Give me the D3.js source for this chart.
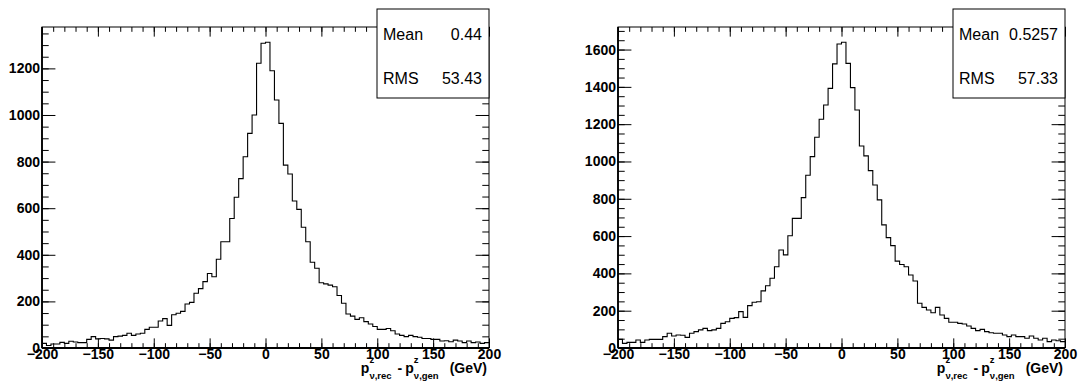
<!DOCTYPE html>
<html>
<head>
<meta charset="utf-8">
<script src="https://cdn.jsdelivr.net/npm/d3@7"></script>
<style>
  body { margin: 0; background: #fff; }
  svg { display: block; }
  text { font-family: "Liberation Sans", Arial, Helvetica, sans-serif; }
</style>
</head>
<body>
<div id="chart"></div>
<script>
// Binning: 100 bins of 4 GeV from -200 to 200
const xMin = -200;
const xMax = 200;

// Counts per bin, left histogram
const leftCounts = [
  20, 11, 17, 17, 24, 20, 29, 26, 23, 23,
  37, 49, 39, 41, 39, 34, 49, 51, 54, 63,
  54, 60, 63, 80, 89, 89, 116, 126, 97, 143,
  149, 157, 189, 196, 235, 255, 285, 320, 306, 381,
  456, 456, 556, 647, 727, 821, 921, 1000, 1222, 1308,
  1312, 1190, 1064, 964, 785, 747, 631, 595, 518, 456,
  368, 342, 280, 275, 270, 263, 225, 192, 146, 137,
  123, 130, 113, 103, 92, 80, 80, 84, 74, 60,
  54, 49, 54, 49, 46, 41, 41, 37, 37, 30,
  31, 27, 34, 30, 23, 30, 23, 26, 20, 23
];

// Counts per bin, right histogram
const rightCounts = [
  46, 25, 30, 30, 43, 30, 43, 46, 46, 46,
  61, 79, 64, 70, 68, 57, 79, 88, 97, 105,
  93, 97, 105, 132, 141, 159, 163, 195, 164, 227,
  245, 248, 306, 334, 374, 436, 525, 499, 602, 695,
  695, 806, 926, 1026, 1130, 1226, 1303, 1392, 1523, 1630,
  1639, 1526, 1396, 1276, 1083, 1030, 951, 874, 794, 660,
  592, 549, 466, 448, 436, 391, 359, 240, 218, 204,
  189, 218, 177, 159, 138, 138, 132, 129, 118, 105,
  93, 100, 88, 82, 79, 79, 70, 61, 70, 61,
  61, 52, 64, 52, 43, 52, 34, 43, 39, 34
];

// Tick values
const xMajorTicks = [-200, -150, -100, -50, 0, 50, 100, 150, 200];
const xMinorTicks = d3.range(-200, 201, 10);
const leftYMajorTicks = [0, 200, 400, 600, 800, 1000, 1200];
const rightYMajorTicks = [0, 200, 400, 600, 800, 1000, 1200, 1400, 1600];

// Stat box contents
const leftStats = [["Mean", "0.44"], ["RMS", "53.43"]];
const rightStats = [["Mean", "0.5257"], ["RMS", "57.33"]];

const W = 1080, H = 385;
const svg = d3.select("#chart").append("svg")
  .attr("width", W)
  .attr("height", H);

function draw_hist(opt) {
  const x0 = opt.left, x1 = opt.right, y0 = 27, y1 = 348;
  const counts = opt.counts;
  const nb = counts.length;
  const bw = (xMax - xMin) / nb;
  const yTop = d3.max(counts) * 1.05;   // ROOT style headroom

  const xScale = d3.scaleLinear().domain([xMin, xMax]).range([x0, x1]);
  const yScale = d3.scaleLinear().domain([0, yTop]).range([y1, y0]);

  const g = svg.append("g");

  // Frame
  g.append("rect")
    .attr("x", x0).attr("y", y0)
    .attr("width", x1 - x0).attr("height", y1 - y0)
    .attr("fill", "none").attr("stroke", "#000").attr("stroke-width", 1);

  const xt = 0.03 * (y1 - y0);   // x tick length
  const yt = 0.03 * (x1 - x0);   // y tick length
  const yMinor = d3.range(0, yTop, 50);

  const style = sel => {
    sel.selectAll(".tick line").attr("stroke", "#000").attr("stroke-width", 1);
    sel.selectAll(".domain").remove();
    sel.selectAll("text")
      .attr("font-family", "'Liberation Sans', Arial, sans-serif")
      .attr("font-weight", "bold")
      .attr("font-size", "14px")
      .attr("fill", "#000");
  };

  // Bottom axis with labels
  g.append("g").attr("transform", `translate(0,${y1})`)
    .call(d3.axisBottom(xScale).tickValues(xMajorTicks).tickSize(-xt).tickPadding(1.5)
      .tickFormat(d3.format("d")))
    .call(style);
  g.append("g").attr("transform", `translate(0,${y1})`)
    .call(d3.axisBottom(xScale).tickValues(xMinorTicks).tickSize(-xt / 2).tickFormat(""))
    .call(style);
  // Top ticks
  g.append("g").attr("transform", `translate(0,${y0})`)
    .call(d3.axisTop(xScale).tickValues(xMajorTicks).tickSize(-xt).tickFormat(""))
    .call(style);
  g.append("g").attr("transform", `translate(0,${y0})`)
    .call(d3.axisTop(xScale).tickValues(xMinorTicks).tickSize(-xt / 2).tickFormat(""))
    .call(style);

  // Left axis with labels
  g.append("g").attr("transform", `translate(${x0},0)`)
    .call(d3.axisLeft(yScale).tickValues(opt.yMajor).tickSize(-yt).tickPadding(2)
      .tickFormat(d3.format("d")))
    .call(style);
  g.append("g").attr("transform", `translate(${x0},0)`)
    .call(d3.axisLeft(yScale).tickValues(yMinor).tickSize(-yt / 2).tickFormat(""))
    .call(style);
  // Right ticks
  g.append("g").attr("transform", `translate(${x1},0)`)
    .call(d3.axisRight(yScale).tickValues(opt.yMajor).tickSize(-yt).tickFormat(""))
    .call(style);
  g.append("g").attr("transform", `translate(${x1},0)`)
    .call(d3.axisRight(yScale).tickValues(yMinor).tickSize(-yt / 2).tickFormat(""))
    .call(style);

  // Thicker axis lines (left and bottom)
  g.append("line").attr("x1", x0).attr("x2", x0).attr("y1", y0).attr("y2", y1)
    .attr("stroke", "#000").attr("stroke-width", 1.8);
  g.append("line").attr("x1", x0).attr("x2", x1).attr("y1", y1).attr("y2", y1)
    .attr("stroke", "#000").attr("stroke-width", 2.2);

  // Histogram outline
  const pts = counts.map((c, i) => [xMin + i * bw, c]);
  pts.push([xMax, counts[nb - 1]]);
  const line = d3.line()
    .x(d => xScale(d[0]))
    .y(d => yScale(d[1]))
    .curve(d3.curveStepAfter);
  g.append("path")
    .datum(pts)
    .attr("d", line)
    .attr("fill", "none")
    .attr("stroke", "#000")
    .attr("stroke-width", 1.1);

  // Axis title: p^z_{nu,rec} - p^z_{nu,gen}  (GeV), right aligned
  const tg = g.append("g");
  let cx = 0;
  const put = (s, size, dy, adv) => {
    const t = tg.append("text").attr("x", cx).attr("y", dy)
      .attr("font-weight", "bold").attr("font-size", size + "px").text(s);
    const w = t.node().getComputedTextLength();
    if (adv) cx += w;
    return w;
  };
  const stack = (sup, sub) => {
    const a = put(sup, 9.5, -10, false);
    const b = put(sub, 9.5, 6, false);
    cx += Math.max(a, b);
  };
  put("p", 14, 0, true);
  stack("z", "\u03bd,rec");
  cx += 6;
  put("-", 14, 0, true);
  cx += 3;
  put("p", 14, 0, true);
  stack("z", "\u03bd,gen");
  cx += 11;
  put("(GeV)", 14, 0, true);
  tg.attr("transform", `translate(${x1 - 2 - cx},373)`);

  // Stats box
  const bxW = 112, bxH = 89;
  const bx = x1 - bxW, by = 9;
  g.append("rect")
    .attr("x", bx).attr("y", by).attr("width", bxW).attr("height", bxH)
    .attr("fill", "#fff").attr("stroke", "#000").attr("stroke-width", 1);
  opt.stats.forEach((s, i) => {
    const yy = by + 30.5 + i * 44.5;
    g.append("text").attr("x", bx + 6).attr("y", yy)
      .attr("font-size", "16px").text(s[0]);
    g.append("text").attr("x", x1 - 7).attr("y", yy)
      .attr("text-anchor", "end").attr("font-size", "16px").text(s[1]);
  });
}

draw_hist({left: 42, right: 489, counts: leftCounts, yMajor: leftYMajorTicks, stats: leftStats});
draw_hist({left: 618, right: 1065, counts: rightCounts, yMajor: rightYMajorTicks, stats: rightStats});
</script>
</body>
</html>
